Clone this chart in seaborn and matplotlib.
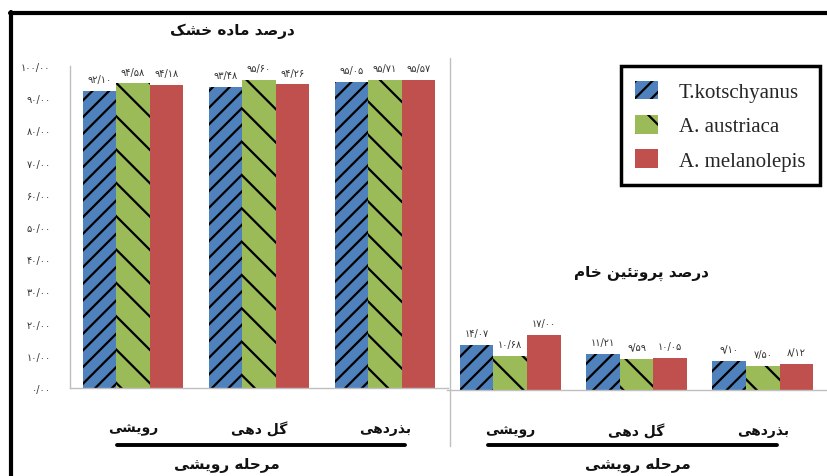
import matplotlib
matplotlib.use("Agg")
import matplotlib.pyplot as plt
from matplotlib.patches import Patch
from matplotlib.lines import Line2D
import seaborn as sns
import pandas as pd

# ---------------- data ----------------
stages = ["رویشی", "گل دهی", "بذردهی"]
species = ["T.kotschyanus", "A. austriaca", "A. melanolepis"]
dry_matter_tk = [92.10, 93.48, 95.05]
dry_matter_aa = [94.58, 95.60, 95.71]
dry_matter_am = [94.18, 94.26, 95.57]
protein_tk = [14.07, 11.21, 9.10]
protein_aa = [10.68, 9.59, 7.50]
protein_am = [17.00, 10.05, 8.12]
title_dry = "درصد ماده خشک"
title_protein = "درصد پروتئین خام"
xlabel = "مرحله رویشی"
yticks = [0, 10, 20, 30, 40, 50, 60, 70, 80, 90, 100]

colors = ["#4F81BD", "#9BBB59", "#C0504D"]
hatches = ["//", "\\", ""]

# ------------- Persian shaping helpers -------------
FORMS = {
    '\u0627': ('\uFE8D', '\uFE8E', None, None),
    '\u0628': ('\uFE8F', '\uFE90', '\uFE91', '\uFE92'),
    '\u067E': ('\uFB56', '\uFB57', '\uFB58', '\uFB59'),
    '\u062A': ('\uFE95', '\uFE96', '\uFE97', '\uFE98'),
    '\u062D': ('\uFEA1', '\uFEA2', '\uFEA3', '\uFEA4'),
    '\u062E': ('\uFEA5', '\uFEA6', '\uFEA7', '\uFEA8'),
    '\u062F': ('\uFEA9', '\uFEAA', None, None),
    '\u0630': ('\uFEAB', '\uFEAC', None, None),
    '\u0631': ('\uFEAD', '\uFEAE', None, None),
    '\u0634': ('\uFEB5', '\uFEB6', '\uFEB7', '\uFEB8'),
    '\u0635': ('\uFEB9', '\uFEBA', '\uFEBB', '\uFEBC'),
    '\u06A9': ('\uFB8E', '\uFB8F', '\uFB90', '\uFB91'),
    '\u06AF': ('\uFB92', '\uFB93', '\uFB94', '\uFB95'),
    '\u0644': ('\uFEDD', '\uFEDE', '\uFEDF', '\uFEE0'),
    '\u0645': ('\uFEE1', '\uFEE2', '\uFEE3', '\uFEE4'),
    '\u0646': ('\uFEE5', '\uFEE6', '\uFEE7', '\uFEE8'),
    '\u0647': ('\uFEE9', '\uFEEA', '\uFEEB', '\uFEEC'),
    '\u0648': ('\uFEED', '\uFEEE', None, None),
    '\u06CC': ('\uFBFC', '\uFBFD', '\uFBFE', '\uFBFF'),
    '\u0626': ('\uFE89', '\uFE8A', '\uFE8B', '\uFE8C'),
}


def shape(s):
    out = []
    n = len(s)
    for i, ch in enumerate(s):
        if ch not in FORMS:
            out.append(ch)
            continue
        iso, fin, ini, med = FORMS[ch]
        prev = s[i - 1] if i > 0 else None
        nxt = s[i + 1] if i < n - 1 else None
        jp = prev in FORMS and FORMS[prev][2] is not None
        jn = ini is not None and nxt in FORMS
        if jp and jn:
            out.append(med)
        elif jp:
            out.append(fin)
        elif jn:
            out.append(ini)
        else:
            out.append(iso)
    return "".join(reversed(out))


FA_DIGITS = str.maketrans("0123456789.", "۰۱۲۳۴۵۶۷۸۹/")


def fa(v):
    return f"{v:.2f}".translate(FA_DIGITS)


# ---------------- figure ----------------
sns.set_style("white")
plt.rcParams["font.family"] = ["DejaVu Sans"]
plt.rcParams["hatch.linewidth"] = 1.6

W, H = 827, 477
fig = plt.figure(figsize=(W / 100, H / 100), dpi=100)


def frac_box(x0, x1, ytop, ybot):
    return [x0 / W, 1 - ybot / H, (x1 - x0) / W, (ybot - ytop) / H]


ax1 = fig.add_axes(frac_box(70, 448, 67, 389))
ax2 = fig.add_axes(frac_box(447, 826, 69, 391))


def make_df(a, b, c):
    rows = []
    for sp, vals in zip(species, [a, b, c]):
        for st, v in zip(stages, vals):
            rows.append({"stage": st, "species": sp, "value": v})
    return pd.DataFrame(rows)


df_dry = make_df(dry_matter_tk, dry_matter_aa, dry_matter_am)
df_pro = make_df(protein_tk, protein_aa, protein_am)

for ax, df, series in [
    (ax1, df_dry, [dry_matter_tk, dry_matter_aa, dry_matter_am]),
    (ax2, df_pro, [protein_tk, protein_aa, protein_am]),
]:
    sns.barplot(data=df, x="stage", y="value", hue="species",
                order=stages, hue_order=species, palette=colors,
                saturation=1, width=0.8, gap=0, legend=False,
                errorbar=None, ax=ax)
    for cont, hatch, vals in zip(ax.containers, hatches, series):
        for bar in cont:
            bar.set_hatch(hatch)
            bar.set_edgecolor("black")
            bar.set_linewidth(0)
        ax.bar_label(cont, labels=[fa(v) for v in vals], padding=5,
                     fontsize=7, color="#333333")
    ax.set_ylim(0, 100)
    ax.set_xlim(-0.5, 2.5)
    ax.set_xlabel("")
    ax.set_ylabel("")
    ax.set_xticks(range(len(stages)))
    ax.set_xticklabels([shape(s) for s in stages], fontsize=10,
                       fontweight="bold", color="#111111")
    ax.tick_params(axis="x", length=0, pad=24)
    for sp in ["top", "right"]:
        ax.spines[sp].set_visible(False)
    ax.spines["bottom"].set_color("#BFBFBF")
    ax.spines["bottom"].set_linewidth(1)
    ax.patch.set_alpha(0)

ax1.set_yticks(yticks)
ax1.set_yticklabels([fa(v) for v in yticks], fontsize=7, color="#333333")
ax1.tick_params(axis="y", length=0, pad=14)
ax1.spines["left"].set_color("#BFBFBF")
ax1.spines["left"].set_linewidth(1)

ax2.set_yticks([])
ax2.spines["left"].set_visible(False)

# titles
fig.text(232 / W, 1 - 31 / H, shape(title_dry), ha="center", va="center",
         fontsize=11, fontweight="bold", color="#111111")
fig.text(642 / W, 1 - 273 / H, shape(title_protein), ha="center", va="center",
         fontsize=11, fontweight="bold", color="#111111")

# axis-group labels with thick underline
for x0, x1, xc in [(117, 405, 227), (488, 777, 638)]:
    fig.add_artist(Line2D([x0 / W, x1 / W], [1 - 446 / H] * 2,
                          color="black", lw=2.8, transform=fig.transFigure))
    fig.text(xc / W, 1 - 466 / H, shape(xlabel), ha="center", va="center",
             fontsize=11, fontweight="bold", color="#111111")

# separator between panels
fig.add_artist(Line2D([450 / W] * 2, [1 - 59 / H, 1 - 447 / H],
                      color="#BFBFBF", lw=1, transform=fig.transFigure))

# outer frame (top and left)
fig.add_artist(Line2D([10 / W, 1], [1 - 14 / H] * 2, color="black", lw=3,
                      transform=fig.transFigure))
fig.add_artist(Line2D([10.5 / W] * 2, [1 - 12.5 / H, 0], color="black", lw=3,
                      transform=fig.transFigure))

# legend
handles = [Patch(facecolor=c, hatch=h, edgecolor="black", linewidth=0)
           for c, h in zip(colors, hatches)]
leg = fig.legend(handles, species, loc="upper right",
                 bbox_to_anchor=(820 / W, 1 - 67 / H),
                 bbox_transform=fig.transFigure, borderaxespad=0,
                 frameon=True, fancybox=False, framealpha=1,
                 edgecolor="black", prop={"family": "Liberation Serif", "size": 15},
                 handlelength=1.1, handleheight=1.0, handletextpad=1.0,
                 labelspacing=0.62, borderpad=0.7)
leg.get_frame().set_linewidth(2.5)

fig.savefig("out.png", dpi=100)
